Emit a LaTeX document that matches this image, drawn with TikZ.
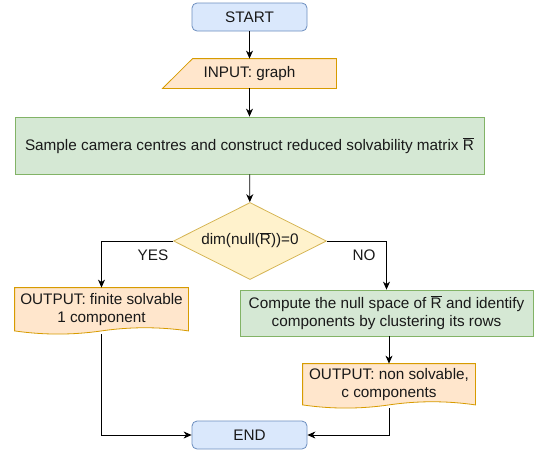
\documentclass[tikz,border=0pt]{standalone}
\usepackage{fontspec}
\setmainfont{Liberation Sans}
\usetikzlibrary{shapes.geometric,arrows.meta,calc}
\definecolor{bfill}{HTML}{DAE8FC}\definecolor{bdraw}{HTML}{6C8EBF}
\definecolor{ofill}{HTML}{FFE6CC}\definecolor{odraw}{HTML}{D79B00}
\definecolor{gfill}{HTML}{D5E8D4}\definecolor{gdraw}{HTML}{82B366}
\definecolor{yfill}{HTML}{FFF2CC}\definecolor{ydraw}{HTML}{D6B656}
\newcommand\Rb{\mbox{$\overline{\hbox{R}}$}}
\newcommand\docpath[1]{%
  \draw[odraw,fill=ofill,line width=0.8pt] let \p1=(#1.south west), \p2=(#1.north east), \n1={\x2-\x1} in
   (\x1,\y2) -- (\x2,\y2) -- (\x2,\y1+3.5pt)
   .. controls (\x1+5*\n1/6*1pt,\y1+7.7pt) and (\x1+2*\n1/3*1pt,\y1+7.7pt) .. (\x1+\n1/2*1pt,\y1+3.5pt)
   .. controls (\x1+\n1/3*1pt,\y1-0.7pt) and (\x1+\n1/6*1pt,\y1-0.7pt) .. (\x1,\y1+3.5pt) -- cycle;}
\tikzset{
  base/.style={inner sep=0pt,font=\fontsize{15.3}{18.5}\selectfont,align=center,line width=0.8pt,text=black!90},
  term/.style={base,draw=bdraw,fill=bfill,rounded corners=5pt,minimum width=115pt,minimum height=28pt},
  proc/.style={base,draw=gdraw,fill=gfill},
  decis/.style={base,diamond,draw=ydraw,fill=yfill,minimum width=153pt,minimum height=77pt},
  hold/.style={base},
  arr/.style={line width=0.8pt,-{Stealth[length=8pt,width=7pt,inset=2.5pt]}},
  lab/.style={font=\fontsize{15.3}{18.5}\selectfont,inner sep=0pt,text=black!90},
}
\begin{document}
\begin{tikzpicture}[x=1pt,y=-1pt]
\useasboundingbox (0,0) rectangle (534,450);
\node[term] (start) at (249.5,17) {START};
\node[hold,minimum width=173pt,minimum height=29pt] (in) at (249.5,73.5) {};
\filldraw[odraw,fill=ofill,line width=0.8pt] (in.south west) -- ([xshift=30pt]in.north west) -- (in.north east) -- (in.south east) -- cycle;
\node[base] at (in.center) {INPUT: graph};
\node[proc,minimum width=469pt,minimum height=57pt] (main) at (249.5,145.5) {Sample camera centres and construct reduced solvability matrix \Rb};
\node[decis] (dia) at (250,241) {};
\node[base] at ([yshift=1pt]dia.center) {dim(null(\Rb))=0};
\node[hold,minimum width=173pt,minimum height=46pt] (ol) at (101.5,311) {};
\docpath{ol}
\node[base] at ([yshift=1.5pt]ol.center) {OUTPUT: finite solvable\\1 component};
\node[proc,minimum width=293pt,minimum height=46pt] (cb) at (386.5,313) {Compute the null space of \Rb{} and identify\\components by clustering its rows};
\node[hold,minimum width=172pt,minimum height=44pt] (or) at (389,386) {};
\docpath{or}
\node[base] at ([yshift=1.5pt]or.center) {OUTPUT: non solvable,\\c components};
\node[term] (end) at (249.5,435) {END};
\draw[arr] (start) -- (in);
\draw[arr] (in) -- (main);
\draw[arr] (main) -- (dia);
\draw[arr] (dia.west) -| (ol.north);
\draw[arr] (dia.east) -| (cb.north);
\draw[arr] (or.north |- cb.south) -- (or.north);
\draw[arr] (ol.south) |- (end.west);
\draw[arr] (or.south) |- (end.east);
\node[lab] (yes) at (153,255.5) {YES};
\node[lab] (no) at (364,255.5) {NO};
\end{tikzpicture}
\end{document}
